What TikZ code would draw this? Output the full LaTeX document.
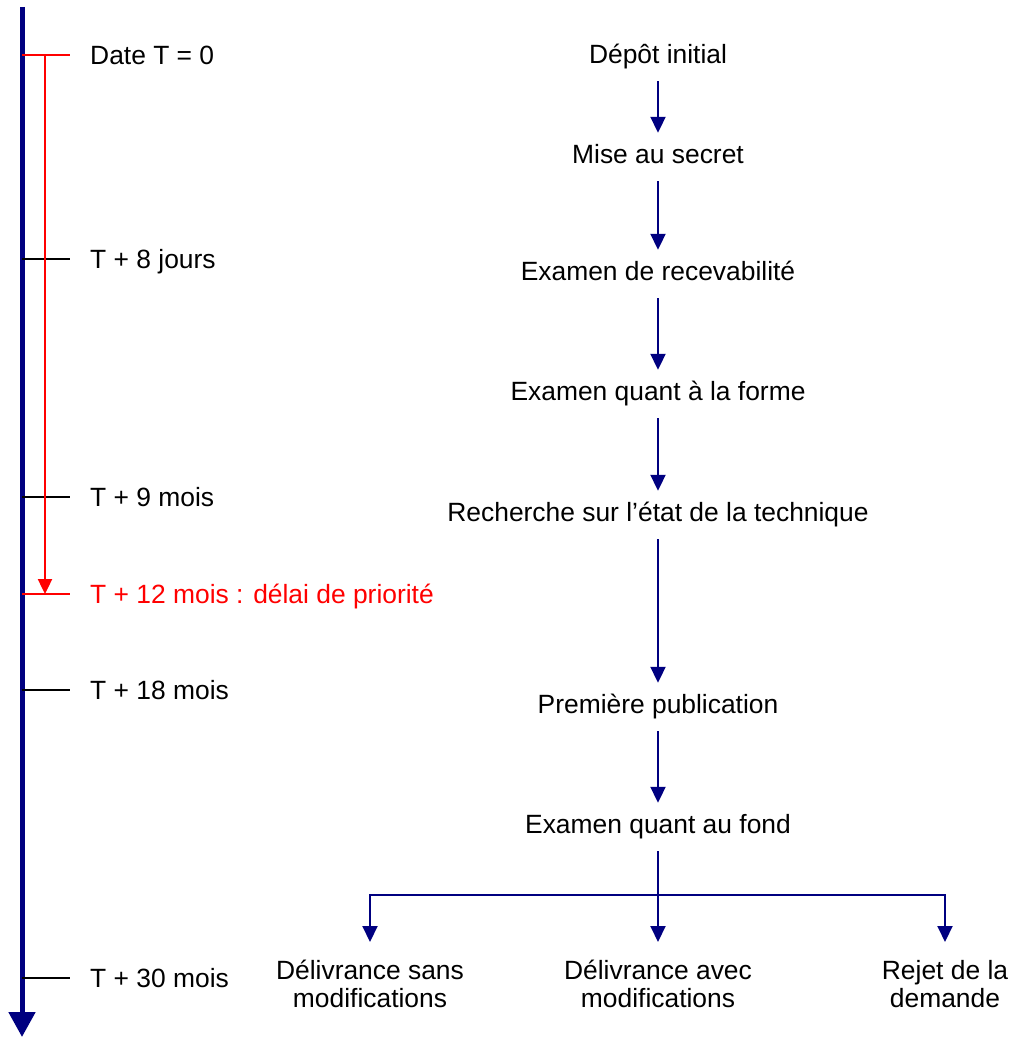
\documentclass[tikz,border=0pt]{standalone}
\usepackage{fontspec}
\setmainfont{Liberation Sans}
\usetikzlibrary{arrows.meta}

\definecolor{navy}{RGB}{0,0,128}

\begin{document}
\begin{tikzpicture}[
  x=1pt, y=-1pt,
  every node/.style={font=\fontsize{26.4}{28}\selectfont},
  stage/.style={inner xsep=2pt, inner ysep=0pt, minimum height=48pt, text height=19pt, text depth=6pt},
  outcome/.style={align=center, anchor=north, inner ysep=18pt},
  tlabel/.style={anchor=west, inner xsep=20pt, inner ysep=0pt, text height=18.7pt, text depth=0pt},
  flow/.style={-{Triangle[length=16pt, width=15pt]}, line width=2pt, navy},
  ticker/.style={line width=1.8pt}
]

\useasboundingbox (0,0) rectangle (1012,1038);

% Time axis
\coordinate (axtop) at (22,7);
\coordinate (axend) at (22,1037);
\draw[navy, line width=5pt, -{Triangle[length=25pt, width=26pt]}] (axtop) -- (axend);

% Ticks and dates
\foreach \name/\y/\txt in {t8/259/{T + 8 jours}, t9/497/{T + 9 mois}, t18/690/{T + 18 mois}, t30/978/{T + 30 mois}} {
  \coordinate (ax-\name) at (22,\y);
  \node[tlabel] (\name) at (70,\y) {\txt};
  \draw[ticker] (ax-\name) -- (\name.west);
}
\coordinate (ax-t0) at (22,55);
\node[tlabel] (t0) at (70,55) {Date T = 0};
\draw[ticker, red] (ax-t0) -- (t0.west);
\coordinate (ax-t12) at (22,594);
\node[tlabel, text=red] (t12) at (70,594) {T + 12 mois : délai de priorité};
\draw[ticker, red] (ax-t12) -- (t12.west);

% Priority period
\coordinate (prio0) at (45,55);
\coordinate (prio12) at (45,594);
\draw[red, line width=2.4pt, -{Triangle[length=15pt, width=14pt]}] (prio0) -- (prio12);

% Procedure steps
\node[stage] (depot) at (658,57) {Dépôt initial};
\node[stage] (secret) at (658,157) {Mise au secret};
\node[stage] (recev) at (658,274) {Examen de recevabilité};
\node[stage] (forme) at (658,394) {Examen quant à la forme};
\node[stage] (rech) at (658,515) {Recherche sur l’état de la technique};
\node[stage] (publi) at (658,707) {Première publication};
\node[stage] (fond) at (658,827) {Examen quant au fond};

\draw[flow] (depot) -- (secret);
\draw[flow] (secret) -- (recev);
\draw[flow] (recev) -- (forme);
\draw[flow] (forme) -- (rech);
\draw[flow] (rech) -- (publi);
\draw[flow] (publi) -- (fond);

% Outcomes
\node[outcome] (sans) at (370,942) {Délivrance sans\\modifications};
\node[outcome] (avec) at (658,942) {Délivrance avec\\modifications};
\node[outcome] (rejet) at (945,942) {Rejet de la\\demande};

\coordinate (split) at (658,895);
\draw[line width=2pt, navy] (fond) -- (split);
\draw[flow] (split) -| (sans);
\draw[flow] (split) -- (avec);
\draw[flow] (split) -| (rejet);

\end{tikzpicture}
\end{document}
